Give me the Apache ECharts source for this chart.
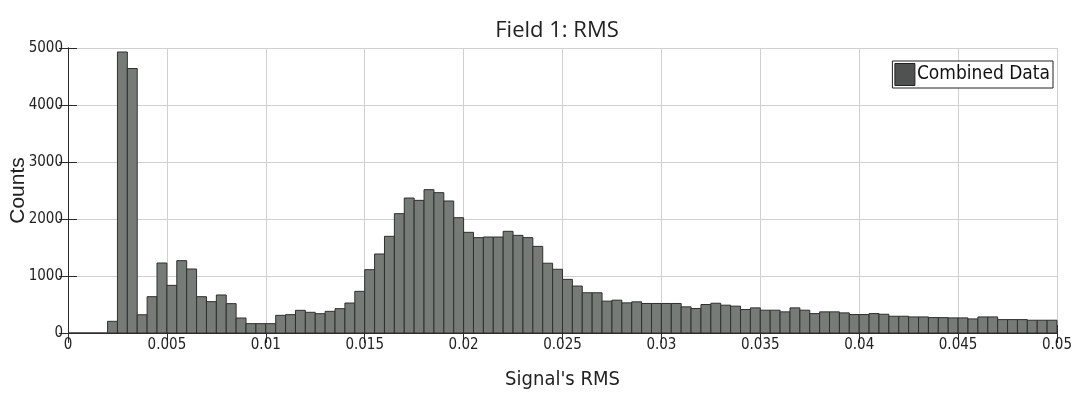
<!DOCTYPE html>
<html>
<head>
<meta charset="utf-8">
<script src="https://cdn.jsdelivr.net/npm/echarts@6/dist/echarts.min.js"></script>
<style>
  html, body { margin: 0; padding: 0; background: #fff; }
  #chart { width: 1075px; height: 394px; }
</style>
</head>
<body>
<div id="chart"></div>
<script>
// Histogram of the signal RMS, Field 1: 100 bins of width 0.0005 from 0 to 0.05
const binStart = 0;
const binWidth = 0.0005;
const counts = [
  0, 0, 0, 0, 205, 4930, 4640, 320, 637, 1228,
  836, 1269, 1123, 637, 550, 667, 515, 263, 164, 164,
  164, 310, 322, 398, 363, 339, 380, 427, 526, 731,
  1111, 1386, 1696, 2094, 2368, 2327, 2515, 2462, 2316, 2023,
  1766, 1673, 1684, 1684, 1784, 1713, 1673, 1520, 1224, 1118,
  941, 824, 706, 706, 559, 576, 529, 547, 518, 518,
  518, 518, 459, 429, 500, 522, 488, 471, 412, 441,
  400, 400, 371, 441, 400, 341, 371, 371, 353, 324,
  324, 341, 329, 294, 294, 282, 282, 270, 270, 265,
  265, 247, 282, 282, 235, 235, 235, 224, 224, 224
];
const xTickLabels = ['0', '0.005', '0.01', '0.015', '0.02', '0.025', '0.03', '0.035', '0.04', '0.045', '0.05'];
const yTickLabels = ['0', '1000', '2000', '3000', '4000', '5000'];
const seriesName = 'Combined Data';

const xStep = 0.005;
const yStep = 1000;
const narrow = "'Liberation Sans Narrow', 'DejaVu Sans Condensed', 'Liberation Sans', sans-serif";

// each bin becomes [left edge, right edge, count]
const bins = counts.map((c, i) => [binStart + i * binWidth, binStart + (i + 1) * binWidth, c]);

const gridLine = { show: true, lineStyle: { color: '#d0d0d0', width: 1 } };
const frameLine = { show: true, lineStyle: { color: '#2a2a2a', width: 1 } };

const chart = echarts.init(document.getElementById('chart'), null, { renderer: 'canvas' });
chart.setOption({
  backgroundColor: '#ffffff',
  animation: false,
  title: {
    text: 'Field 1: RMS',
    left: 552,
    textAlign: 'center',
    top: 15,
    textStyle: { fontFamily: "'Open Sans', sans-serif", fontSize: 22, fontWeight: 'normal', color: '#222' }
  },
  legend: {
    right: 22,
    top: 61,
    data: [{ name: seriesName, icon: 'rect', itemStyle: { color: '#4f5250', borderColor: '#222', borderWidth: 1 } }],
    itemWidth: 20,
    itemHeight: 22,
    padding: [2, 3, 2, 2],
    borderColor: '#222',
    borderWidth: 1,
    backgroundColor: '#fff',
    textStyle: { fontFamily: narrow, fontSize: 19, color: '#111', padding: [0, 0, 0, -3] }
  },
  grid: { left: 68, right: 18, top: 48, bottom: 61, containLabel: false, outerBoundsMode: 'none' },
  xAxis: [
    {
      type: 'value', min: 0, max: 0.05, interval: xStep, position: 'bottom',
      name: "Signal's RMS", nameLocation: 'middle', nameGap: 37, nameMoveOverlap: false,
      nameTextStyle: { fontFamily: narrow, fontSize: 20, color: '#222' },
      axisLine: frameLine,
      axisTick: { show: true, inside: true, length: 8, lineStyle: { color: '#2a2a2a' } },
      axisLabel: {
        fontFamily: narrow, fontSize: 15, color: '#222', margin: 5,
        formatter: v => xTickLabels[Math.round(v / xStep)]
      },
      splitLine: gridLine
    },
    {
      type: 'value', min: 0, max: 0.05, interval: xStep, position: 'top',
      axisLine: frameLine,
      axisTick: { show: true, inside: true, length: 10, lineStyle: { color: '#2a2a2a' } },
      axisLabel: { show: false },
      splitLine: { show: false }
    }
  ],
  yAxis: [
    {
      type: 'value', min: 0, max: 5000, interval: yStep, position: 'left',
      name: 'Counts', nameLocation: 'middle', nameGap: 39, nameMoveOverlap: false,
      nameTextStyle: { fontFamily: "'Liberation Sans', sans-serif", fontSize: 21, color: '#222' },
      axisLine: frameLine,
      axisTick: { show: true, inside: true, length: 9, lineStyle: { color: '#2a2a2a' } },
      axisLabel: {
        fontFamily: narrow, fontSize: 15, color: '#222', margin: 5,
        formatter: v => yTickLabels[Math.round(v / yStep)]
      },
      splitLine: gridLine
    },
    {
      type: 'value', min: 0, max: 5000, interval: yStep, position: 'right',
      axisLine: frameLine,
      axisTick: { show: true, inside: true, length: 9, lineStyle: { color: '#2a2a2a' } },
      axisLabel: { show: false },
      splitLine: { show: false }
    }
  ],
  series: [
    {
      name: seriesName,
      type: 'custom',
      xAxisIndex: 0,
      yAxisIndex: 0,
      data: bins,
      encode: { x: [0, 1], y: 2 },
      itemStyle: { color: '#767b78', borderColor: '#2e302f', borderWidth: 1 },
      renderItem: function (params, api) {
        const topLeft = api.coord([api.value(0), api.value(2)]);
        const bottomRight = api.coord([api.value(1), 0]);
        return {
          type: 'rect',
          shape: {
            x: topLeft[0],
            y: topLeft[1],
            width: bottomRight[0] - topLeft[0],
            height: bottomRight[1] - topLeft[1]
          },
          style: api.style()
        };
      }
    }
  ]
});
</script>
</body>
</html>
